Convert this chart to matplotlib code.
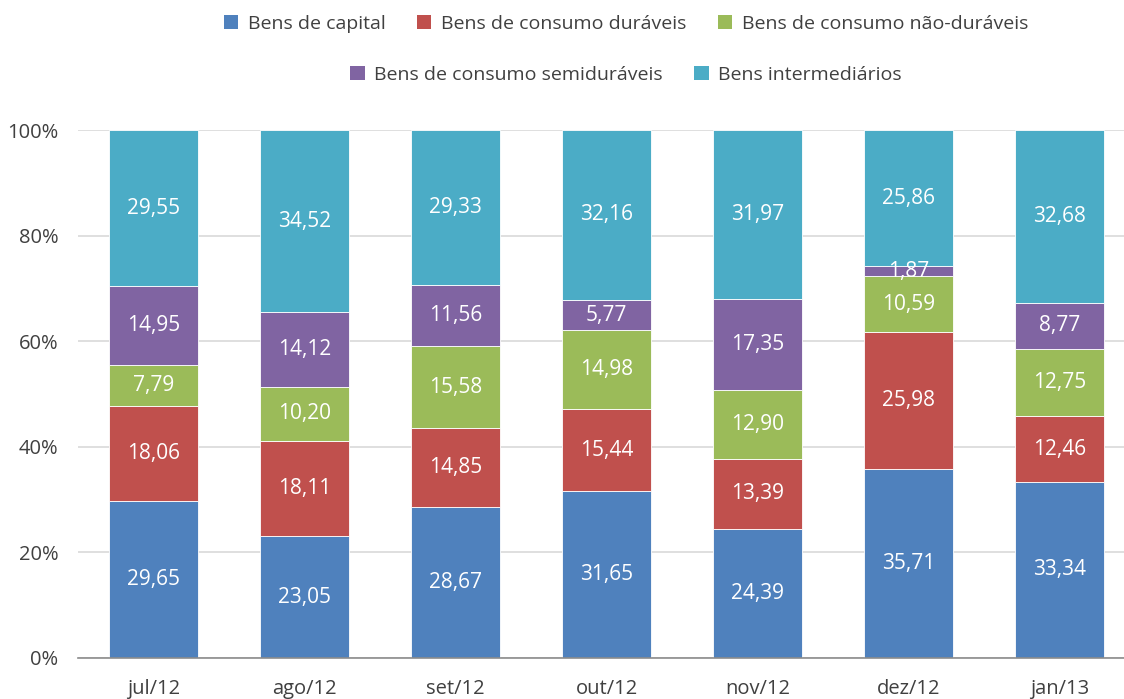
import numpy as np
import matplotlib.pyplot as plt
from matplotlib.patches import Patch

plt.rcParams['font.family'] = ['Open Sans', 'DejaVu Sans']

meses = ["jul/12", "ago/12", "set/12", "out/12", "nov/12", "dez/12", "jan/13"]
series = ["Bens de capital", "Bens de consumo duráveis", "Bens de consumo não-duráveis",
          "Bens de consumo semiduráveis", "Bens intermediários"]
capital = [29.65, 23.05, 28.67, 31.65, 24.39, 35.71, 33.34]
duraveis = [18.06, 18.11, 14.85, 15.44, 13.39, 25.98, 12.46]
nao_duraveis = [7.79, 10.20, 15.58, 14.98, 12.90, 10.59, 12.75]
semiduraveis = [14.95, 14.12, 11.56, 5.77, 17.35, 1.87, 8.77]
intermediarios = [29.55, 34.52, 29.33, 32.16, 31.97, 25.86, 32.68]
cores = ["#4F81BD", "#C0504D", "#9BBB59", "#8064A2", "#4BACC6"]

fig = plt.figure(figsize=(11.24, 6.99), dpi=100)
# plot area runs a little past the right edge, like the original crop
ax = fig.add_axes([0.0694, 0.0587, 0.9404, 0.7553])

x = np.arange(len(meses))
base = np.zeros(len(meses))
for vals, cor in zip([capital, duraveis, nao_duraveis, semiduraveis, intermediarios], cores):
    vals = np.array(vals)
    ax.bar(x, vals, 0.585, bottom=base, color=cor, edgecolor="white", linewidth=0.6, zorder=3)
    for xi, b, v in zip(x, base, vals):
        ax.text(xi, b + v / 2, f"{v:.2f}".replace(".", ","), ha="center", va="center",
                color="white", fontsize=15, zorder=4)
    base += vals

ax.set_xlim(-0.5, len(meses) - 0.5)
ax.set_ylim(0, 100)
ax.set_yticks(range(0, 101, 20))
ax.set_yticklabels([f"{v}%" for v in range(0, 101, 20)])
ax.set_xticks(x)
ax.set_xticklabels(meses)
ax.yaxis.grid(True, color="#d9d9d9", linewidth=1.2, zorder=0)
ax.tick_params(axis="both", length=0, labelsize=14.5, labelcolor="#404040")
ax.tick_params(axis="x", pad=15)
ax.tick_params(axis="y", pad=14)
for s in ["top", "right", "left"]:
    ax.spines[s].set_visible(False)
ax.spines["bottom"].set_color("#8c8c8c")
ax.spines["bottom"].set_linewidth(1.2)
ax.spines["bottom"].set_zorder(5)

handles = [Patch(facecolor=c) for c in cores]
kw = dict(frameon=False, fontsize=14, handlelength=0.75, handleheight=0.75,
          handletextpad=0.5, columnspacing=1.6, labelcolor="#404040")
fig.legend(handles[:3], series[:3], ncol=3, loc="center", bbox_to_anchor=(0.557, 0.966), **kw)
fig.legend(handles[3:], series[3:], ncol=2, loc="center", bbox_to_anchor=(0.557, 0.893), **kw)

fig.savefig("out.png", dpi=100)
